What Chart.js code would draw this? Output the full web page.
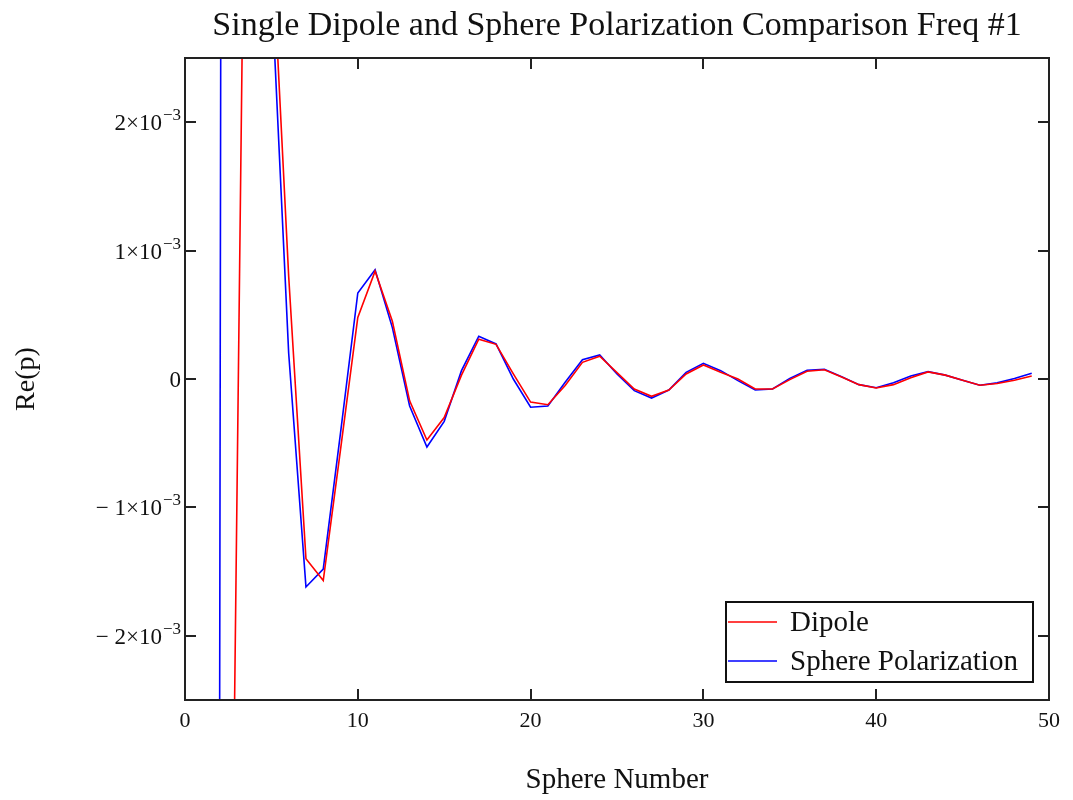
<!DOCTYPE html>
<html>
<head>
<meta charset="utf-8">
<style>
  html, body { margin: 0; padding: 0; background: #fff; }
  #wrap { width: 1073px; height: 800px; }
</style>
</head>
<body>
<div id="wrap"><canvas id="chart_polar"></canvas></div>
<script src="https://cdn.jsdelivr.net/npm/chart.js@4.4.0/dist/chart.umd.min.js"></script>
<script>
"use strict";

// sphere index along the chain
var sphereNo = [1, 2, 3, 4, 5, 6, 7, 8, 9, 10, 11, 12, 13, 14, 15, 16, 17, 18, 19, 20,
  21, 22, 23, 24, 25, 26, 27, 28, 29, 30, 31, 32, 33, 34, 35, 36, 37, 38, 39, 40,
  41, 42, 43, 44, 45, 46, 47, 48, 49];

// Re(p), single dipole model
var dipole = [-50e-3, -12.6e-3, -1.0e-3, 10.6e-3, 3.5e-3, 0.8e-3, -1.40e-3, -1.57e-3, -0.55e-3, 0.48e-3,
  0.84e-3, 0.45e-3, -0.17e-3, -0.475e-3, -0.30e-3, 0.03e-3, 0.31e-3, 0.27e-3, 0.04e-3, -0.18e-3,
  -0.20e-3, -0.05e-3, 0.13e-3, 0.177e-3, 0.05e-3, -0.078e-3, -0.135e-3, -0.086e-3, 0.039e-3, 0.109e-3,
  0.052e-3, 0.0, -0.078e-3, -0.078e-3, -0.005e-3, 0.06e-3, 0.072e-3, 0.015e-3, -0.044e-3, -0.07e-3,
  -0.044e-3, 0.01e-3, 0.055e-3, 0.03e-3, -0.01e-3, -0.049e-3, -0.035e-3, -0.01e-3, 0.023e-3];

// Re(p), sphere polarization model
var spherePol = [-80e-3, -3.0e-3, 80e-3, 12e-3, 3.07e-3, 0.2e-3, -1.62e-3, -1.48e-3, -0.42e-3, 0.67e-3,
  0.85e-3, 0.40e-3, -0.21e-3, -0.53e-3, -0.33e-3, 0.065e-3, 0.333e-3, 0.273e-3, 0.0, -0.22e-3,
  -0.21e-3, -0.026e-3, 0.15e-3, 0.187e-3, 0.039e-3, -0.091e-3, -0.148e-3, -0.086e-3, 0.052e-3, 0.122e-3,
  0.065e-3, -0.013e-3, -0.086e-3, -0.078e-3, 0.005e-3, 0.068e-3, 0.076e-3, 0.017e-3, -0.044e-3, -0.068e-3,
  -0.03e-3, 0.023e-3, 0.057e-3, 0.03e-3, -0.01e-3, -0.049e-3, -0.03e-3, 0.004e-3, 0.044e-3];

var xTicks = [0, 10, 20, 30, 40, 50];
var yTicks = [-2e-3, -1e-3, 0, 1e-3, 2e-3];
// y labels are written Mathcad style: mantissa x 10, exponent raised
var yTickBase = ["\u2212 2\u00d710", "\u2212 1\u00d710", "0", "1\u00d710", "2\u00d710"];
var yTickExp = ["\u22123", "\u22123", "", "\u22123", "\u22123"];

var serif = "'Liberation Serif', 'Times New Roman', serif";

function pairs(xs, ys) {
  return xs.map(function (v, i) { return { x: v, y: ys[i] }; });
}

// box frame with inward tick marks on all four sides + y labels with superscripts
var framePlugin = {
  id: 'frame',
  afterDatasetsDraw: function (chart) {
    var ctx = chart.ctx, a = chart.chartArea;
    var sx = chart.scales.x, sy = chart.scales.y;
    var len = 11;
    ctx.save();
    ctx.strokeStyle = '#222';
    ctx.lineWidth = 2;
    ctx.strokeRect(a.left, a.top, a.right - a.left, a.bottom - a.top);
    ctx.beginPath();
    xTicks.forEach(function (v) {
      var px = Math.round(sx.getPixelForValue(v));
      ctx.moveTo(px, a.bottom); ctx.lineTo(px, a.bottom - len);
      ctx.moveTo(px, a.top); ctx.lineTo(px, a.top + len);
    });
    yTicks.forEach(function (v) {
      var py = Math.round(sy.getPixelForValue(v));
      ctx.moveTo(a.left, py); ctx.lineTo(a.left + len, py);
      ctx.moveTo(a.right, py); ctx.lineTo(a.right - len, py);
    });
    ctx.stroke();

    ctx.fillStyle = '#111';
    ctx.textAlign = 'right';
    ctx.textBaseline = 'alphabetic';
    yTicks.forEach(function (v, i) {
      var py = sy.getPixelForValue(v);
      var xr = a.left - 4;
      if (yTickExp[i]) {
        ctx.font = '17px ' + serif;
        ctx.fillText(yTickExp[i], xr, py - 2);
        xr -= ctx.measureText(yTickExp[i]).width + 1;
      }
      ctx.font = '23px ' + serif;
      ctx.fillText(yTickBase[i], xr, py + 8);
    });
    ctx.restore();
  }
};

// boxed legend in the lower right corner of the plot
var legendBox = {
  id: 'legendBox',
  afterDraw: function (chart) {
    var ctx = chart.ctx, a = chart.chartArea;
    var left = a.right - 323, top = a.bottom - 98, w = 307, h = 80;
    ctx.save();
    ctx.fillStyle = '#fff';
    ctx.fillRect(left, top, w, h);
    ctx.strokeStyle = '#111';
    ctx.lineWidth = 2;
    ctx.strokeRect(left, top, w, h);
    ctx.font = '29px ' + serif;
    ctx.textBaseline = 'middle';
    chart.data.datasets.forEach(function (ds, i) {
      var y = top + 20 + i * 39;
      ctx.strokeStyle = ds.borderColor;
      ctx.lineWidth = 1.5;
      ctx.beginPath();
      ctx.moveTo(left + 2, y);
      ctx.lineTo(left + 51, y);
      ctx.stroke();
      ctx.fillStyle = '#111';
      ctx.fillText(ds.label, left + 64, y + 1);
    });
    ctx.restore();
  }
};

var ctx = document.getElementById('chart_polar').getContext('2d');
var myChart = new Chart(ctx, {
  type: 'line',
  data: {
    datasets: [{
      label: 'Dipole',
      data: pairs(sphereNo, dipole),
      borderColor: '#ff0000',
      borderWidth: 1.6,
      pointRadius: 0,
      tension: 0,
      fill: false
    }, {
      label: 'Sphere Polarization',
      data: pairs(sphereNo, spherePol),
      borderColor: '#0000ff',
      borderWidth: 1.6,
      pointRadius: 0,
      tension: 0,
      fill: false
    }]
  },
  options: {
    responsive: true,
    maintainAspectRatio: false,
    animation: false,
    layout: { padding: { left: 0, right: 24, top: 0, bottom: 0 } },
    plugins: {
      legend: { display: false },
      tooltip: { enabled: false },
      title: {
        display: true,
        fullSize: false,
        text: 'Single Dipole and Sphere Polarization Comparison Freq #1',
        color: '#111',
        font: { family: serif, size: 34, weight: 'normal' },
        padding: { top: 6, bottom: 11.2 }
      }
    },
    scales: {
      x: {
        type: 'linear',
        min: 0,
        max: 50,
        afterBuildTicks: function (s) { s.ticks = xTicks.map(function (v) { return { value: v }; }); },
        afterFit: function (s) { s.height = 100; },
        grid: { display: false, drawTicks: false },
        border: { display: false },
        ticks: { color: '#111', padding: 8, font: { family: serif, size: 22 }, maxRotation: 0 },
        title: {
          display: true,
          text: 'Sphere Number',
          color: '#111',
          font: { family: serif, size: 29 },
          padding: { top: 0, bottom: 2 }
        }
      },
      y: {
        type: 'linear',
        min: -2.5e-3,
        max: 2.5e-3,
        afterBuildTicks: function (s) { s.ticks = yTicks.map(function (v) { return { value: v }; }); },
        afterFit: function (s) { s.width = 185; },
        grid: { display: false, drawTicks: false },
        border: { display: false },
        ticks: { display: false },
        title: {
          display: true,
          text: 'Re(p)',
          color: '#111',
          font: { family: serif, size: 28 },
          padding: { top: 10, bottom: 0 }
        }
      }
    }
  },
  plugins: [framePlugin, legendBox]
});
</script>
</body>
</html>
